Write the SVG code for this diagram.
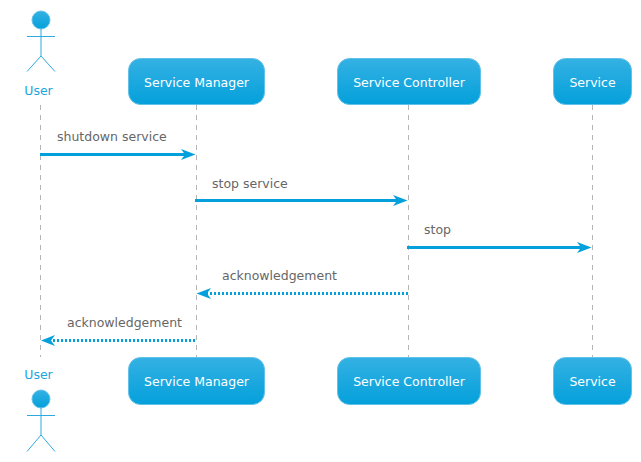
<svg xmlns="http://www.w3.org/2000/svg" width="641" height="462" viewBox="0 0 641 462">
<defs>
<linearGradient id="g" x1="0" y1="0" x2="0" y2="1"><stop offset="0" stop-color="#34b1e3"/><stop offset="1" stop-color="#04a0db"/></linearGradient>
<style>
text{font-family:"DejaVu Sans",Verdana,sans-serif;font-size:12.500px}
.box{fill:url(#g);stroke:#62c1e8;stroke-width:1}
.name{fill:#fff;text-anchor:middle}
.act{fill:#1ba6dd;text-anchor:middle}
.stick{fill:none;stroke:#2ea9de;stroke-width:1}
.head{fill:url(#g);stroke:#62c1e8;stroke-width:1}
.life{stroke:#b5b5b5;stroke-width:1;stroke-dasharray:5 5;fill:none}
.msg{stroke:#04a0db;stroke-width:3;fill:none}
.dot{stroke-dasharray:2 2}
.ah{fill:#04a0db;stroke:none}
.lab{fill:#666}
</style>
</defs>
<rect width="641" height="462" fill="#fff"/>
<g id="connectors">
<path class="life" d="M40.500 105V357"/>
<path class="life" d="M196.500 105V357"/>
<path class="life" d="M408.500 105V357"/>
<path class="life" d="M592.500 105V357"/>
<path class="msg" d="M40 154.500H190"/><path class="ah" d="M195.500 154.500L181 149L185 154.500L181 160Z"/>
<path class="msg" d="M195 200.500H402"/><path class="ah" d="M407.500 200.500L393 195L397 200.500L393 206Z"/>
<path class="msg" d="M407 247.500H586"/><path class="ah" d="M591.500 247.500L577 242L581 247.500L577 253Z"/>
<path class="msg dot" d="M408 293.500H202"/><path class="ah" d="M196.500 293.500L211 288L207 293.500L211 299Z"/>
<path class="msg dot" d="M195 340.500H46"/><path class="ah" d="M41 340.500L55 335L51 340.500L55 346Z"/>
</g>
<g id="labels">
<text class="lab" x="57" y="141">shutdown service</text>
<text class="lab" x="212" y="188">stop service</text>
<text class="lab" x="424" y="234">stop</text>
<text class="lab" x="222" y="280">acknowledgement</text>
<text class="lab" x="67" y="327">acknowledgement</text>
</g>
<g id="user-top">
<circle class="head" cx="41" cy="20" r="9"/>
<path class="stick" d="M41 29V56M27 36.500H55M41 56L27 71.500M41 56L55 71.500"/>
<text class="act" x="38.500" y="95">User</text>
</g>
<g id="manager-top"><rect class="box" x="128.500" y="58.500" width="136" height="46" rx="12"/><text class="name" x="196.500" y="86.500">Service Manager</text></g>
<g id="controller-top"><rect class="box" x="337.500" y="58.500" width="143" height="46" rx="12"/><text class="name" x="409" y="86.500">Service Controller</text></g>
<g id="service-top"><rect class="box" x="553.500" y="58.500" width="78" height="46" rx="12"/><text class="name" x="592.500" y="86.500">Service</text></g>
<g id="user-bottom">
<text class="act" x="38.500" y="379">User</text>
<circle class="head" cx="41" cy="399" r="9"/>
<path class="stick" d="M41 408V435M27 415.500H55M41 435L27 451.500M41 435L55 451.500"/>
</g>
<g id="manager-bottom"><rect class="box" x="128.500" y="357.500" width="136" height="47" rx="12"/><text class="name" x="196.500" y="386">Service Manager</text></g>
<g id="controller-bottom"><rect class="box" x="337.500" y="357.500" width="143" height="47" rx="12"/><text class="name" x="409" y="386">Service Controller</text></g>
<g id="service-bottom"><rect class="box" x="553.500" y="357.500" width="78" height="47" rx="12"/><text class="name" x="592.500" y="386">Service</text></g>
</svg>
